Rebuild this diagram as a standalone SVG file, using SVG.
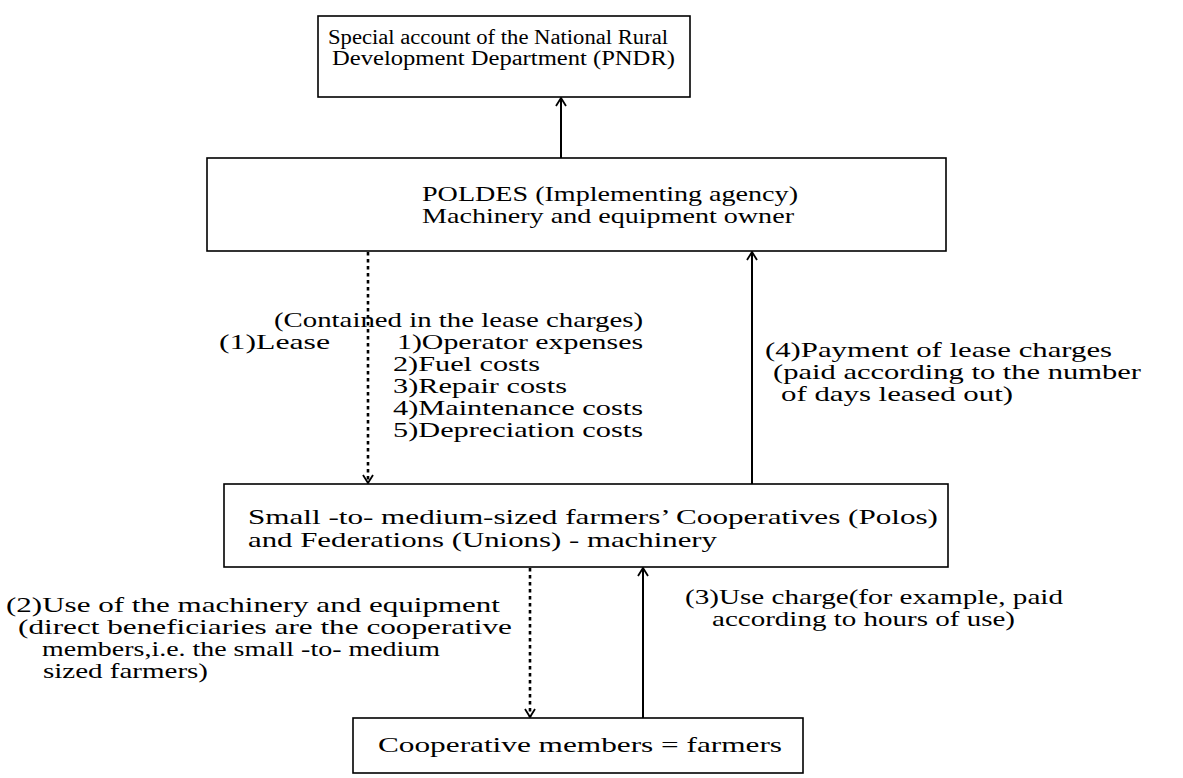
<svg xmlns="http://www.w3.org/2000/svg" width="1183" height="778" viewBox="0 0 1183 778">
<defs>
<style>
.box{fill:#fff;stroke:#000;stroke-width:1.6}
.t{font-family:"Liberation Serif","Times New Roman",serif;font-size:21px;fill:#000}
.s{font-size:20px}
.solid{stroke:#000;stroke-width:2;fill:none}
.dot{stroke:#000;stroke-width:2.6;fill:none;stroke-dasharray:3.5 3.5}
</style>
<marker id="arr" markerWidth="12" markerHeight="12" refX="10" refY="6" orient="auto" markerUnits="userSpaceOnUse" viewBox="0 0 12 12">
<polyline points="2,1 10,6 2,11" fill="none" stroke="#000" stroke-width="1.8"/>
</marker>
</defs>
<rect width="1183" height="778" fill="#fff"/>
<g id="connectors">
<line class="solid" x1="561" y1="158" x2="561" y2="98" marker-end="url(#arr)"/>
<line class="dot" x1="368" y1="252" x2="368" y2="483" marker-end="url(#arr)"/>
<line class="solid" x1="752" y1="484" x2="752" y2="252" marker-end="url(#arr)"/>
<line class="dot" x1="530" y1="568" x2="530" y2="717" marker-end="url(#arr)"/>
<line class="solid" x1="643" y1="718" x2="643" y2="568" marker-end="url(#arr)"/>
</g>
<g id="node-pndr">
<rect class="box" x="318" y="16" width="372" height="81"/>
<text class="t s" x="328" y="44" textLength="340" lengthAdjust="spacingAndGlyphs">Special account of the National Rural</text>
<text class="t s" x="332" y="65" textLength="343" lengthAdjust="spacingAndGlyphs">Development Department (PNDR)</text>
</g>
<g id="node-poldes">
<rect class="box" x="207" y="158" width="739" height="93"/>
<text class="t" x="422" y="201" textLength="376" lengthAdjust="spacingAndGlyphs">POLDES (Implementing agency)</text>
<text class="t" x="422" y="223" textLength="372" lengthAdjust="spacingAndGlyphs">Machinery and equipment owner</text>
</g>
<g id="node-coops">
<rect class="box" x="224" y="484" width="724" height="83"/>
<text class="t" x="248" y="524" textLength="690" lengthAdjust="spacingAndGlyphs">Small -to- medium-sized farmers’ Cooperatives (Polos)</text>
<text class="t" x="248" y="547" textLength="469" lengthAdjust="spacingAndGlyphs">and Federations (Unions) - machinery</text>
</g>
<g id="node-farmers">
<rect class="box" x="353" y="718" width="450" height="55"/>
<text class="t" x="378" y="752" textLength="404" lengthAdjust="spacingAndGlyphs">Cooperative members = farmers</text>
</g>
<g id="labels">
<text class="t" x="274" y="327" textLength="369" lengthAdjust="spacingAndGlyphs">(Contained in the lease charges)</text>
<text class="t" x="219" y="349" textLength="111" lengthAdjust="spacingAndGlyphs">(1)Lease</text>
<text class="t" x="397" y="349" textLength="246" lengthAdjust="spacingAndGlyphs">1)Operator expenses</text>
<text class="t" x="393" y="371" textLength="147" lengthAdjust="spacingAndGlyphs">2)Fuel costs</text>
<text class="t" x="393" y="393" textLength="174" lengthAdjust="spacingAndGlyphs">3)Repair costs</text>
<text class="t" x="393" y="415" textLength="250" lengthAdjust="spacingAndGlyphs">4)Maintenance costs</text>
<text class="t" x="393" y="437" textLength="250" lengthAdjust="spacingAndGlyphs">5)Depreciation costs</text>
<text class="t" x="765" y="357" textLength="347" lengthAdjust="spacingAndGlyphs">(4)Payment of lease charges</text>
<text class="t" x="773" y="379" textLength="368" lengthAdjust="spacingAndGlyphs">(paid according to the number</text>
<text class="t" x="781" y="401" textLength="232" lengthAdjust="spacingAndGlyphs">of days leased out)</text>
<text class="t" x="6" y="612" textLength="494" lengthAdjust="spacingAndGlyphs">(2)Use of the machinery and equipment</text>
<text class="t" x="18" y="634" textLength="494" lengthAdjust="spacingAndGlyphs">(direct beneficiaries are the cooperative</text>
<text class="t" x="42" y="656" textLength="398" lengthAdjust="spacingAndGlyphs">members,i.e. the small -to- medium</text>
<text class="t" x="43" y="678" textLength="165" lengthAdjust="spacingAndGlyphs">sized farmers)</text>
<text class="t" x="685" y="604" textLength="378" lengthAdjust="spacingAndGlyphs">(3)Use charge(for example, paid</text>
<text class="t" x="712" y="626" textLength="303" lengthAdjust="spacingAndGlyphs">according to hours of use)</text>
</g>
</svg>
